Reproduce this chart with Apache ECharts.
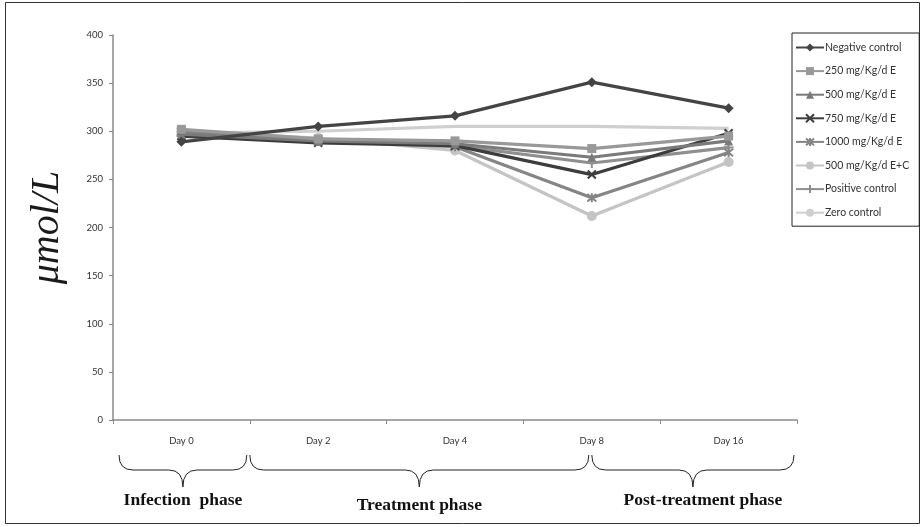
<!DOCTYPE html>
<html>
<head>
<meta charset="utf-8">
<script src="https://cdn.jsdelivr.net/npm/echarts@6/dist/echarts.min.js"></script>
<style>
html,body{margin:0;padding:0;background:#fff;}
#chart{width:923px;height:527px;}
</style>
</head>
<body>
<div id="chart"></div>
<script>
var categories = ['Day 0', 'Day 2', 'Day 4', 'Day 8', 'Day 16'];
var yTicks = [0, 50, 100, 150, 200, 250, 300, 350, 400];

var negativeControl = [289, 305, 316, 351, 324];
var e250 = [302, 292, 290, 282, 295];
var e500 = [297, 290, 287, 273, 290];
var e750 = [295, 288, 285, 255, 298];
var e1000 = [300, 290, 284, 231, 278];
var e500c = [300, 293, 280, 212, 268];
var positiveControl = [295, 290, 285, 267, 283];
var zeroControl = [298, 300, 305, 305, 303];

var seriesNames = ['Negative control', '250 mg/Kg/d E', '500 mg/Kg/d E', '750 mg/Kg/d E',
  '1000 mg/Kg/d E', '500 mg/Kg/d E+C', 'Positive control', 'Zero control'];

var phaseLabels = ['Infection  phase', 'Treatment phase', 'Post-treatment phase'];
var phaseFrom = [-0.5, 0.5, 3];
var phaseTo = [0.5, 3, 4.5];

var seriesData = [negativeControl, e250, e500, e750, e1000, e500c, positiveControl, zeroControl];
var colors = ['#444444', '#999999', '#7a7a7a', '#3d3d3d', '#858585', '#c4c4c4', '#8f8f8f', '#cfcfcf'];
var symbols = ['diamond', 'rect', 'triangle', 'path://M0,0L10,10M10,0L0,10',
  'path://M0,0L10,10M10,0L0,10M5,-1L5,11', 'circle', 'path://M5,-1L5,11M0,5L10,5', 'none'];
var sizes = [10, 9, 9, 8, 9, 10, 10, 0];

var series = seriesNames.map(function (n, i) {
  var pathSym = symbols[i].indexOf('path://') === 0;
  return {
    name: n,
    type: 'line',
    data: seriesData[i],
    symbol: symbols[i],
    symbolSize: sizes[i],
    showSymbol: symbols[i] !== 'none',
    lineStyle: { color: colors[i], width: 3.2 },
    itemStyle: pathSym ? { color: colors[i], borderColor: colors[i], borderWidth: 2 } : { color: colors[i], borderWidth: 0 },
    emphasis: { disabled: true },
    z: 10 - i
  };
});

var chart = echarts.init(document.getElementById('chart'));
chart.setOption({
  animation: false,
  backgroundColor: '#fff',
  grid: { left: 113, right: 126, top: 35, bottom: 107 },
  legend: {
    orient: 'vertical',
    left: 792,
    top: 33,
    width: 126,
    padding: [9, 10, 8, 3],
    itemGap: 12.6,
    itemWidth: 28,
    itemHeight: 10,
    borderColor: '#222',
    borderWidth: 1,
    data: seriesNames,
    textStyle: { fontFamily: 'Lato', fontSize: 10.5, color: '#333', padding: [0, 0, 0, -4] }
  },
  xAxis: {
    type: 'category',
    data: categories,
    axisLine: { lineStyle: { color: '#8a8a8a', width: 1.5 } },
    axisTick: { show: true, length: 4, lineStyle: { color: '#8a8a8a' } },
    axisLabel: { fontFamily: 'Lato', fontSize: 9.5, color: '#333', margin: 16 }
  },
  yAxis: {
    type: 'value',
    min: yTicks[0],
    max: yTicks[yTicks.length - 1],
    interval: yTicks[1] - yTicks[0],
    name: 'μmol/L',
    nameLocation: 'middle',
    nameRotate: 90,
    nameGap: 46,
    nameTextStyle: { fontFamily: 'Liberation Serif', fontStyle: 'italic', fontSize: 40, color: '#1a1a1a' },
    splitLine: { show: false },
    axisLine: { show: true, lineStyle: { color: '#8a8a8a', width: 1.5 } },
    axisTick: { show: true, length: 4, lineStyle: { color: '#8a8a8a' } },
    axisLabel: { fontFamily: 'Lato', fontSize: 9.5, color: '#333', margin: 10 }
  },
  series: series
});

function drawBraces() {
  var c0 = chart.convertToPixel({ xAxisIndex: 0 }, 0);
  var c1 = chart.convertToPixel({ xAxisIndex: 0 }, 1);
  var band = c1 - c0;
  var base = chart.convertToPixel({ yAxisIndex: 0 }, 0);
  var top = base + 35, mid = base + 50, tip = base + 67, textY = base + 80;
  var stroke = { fill: 'none', stroke: '#222', lineWidth: 1 };
  var textShift = [0, 0, 10];
  var els = [{
    type: 'rect', shape: { x: 5.5, y: 2.5, width: 914, height: 521 },
    style: { fill: 'none', stroke: '#333', lineWidth: 1 }, silent: true
  }];
  function curve(x1, y1, x2, y2, cx, cy) {
    els.push({ type: 'bezierCurve', shape: { x1: x1, y1: y1, x2: x2, y2: y2, cpx1: cx, cpy1: cy },
      style: stroke, silent: true });
  }
  function seg(x1, y1, x2, y2) {
    els.push({ type: 'line', shape: { x1: x1, y1: y1, x2: x2, y2: y2 }, style: stroke, silent: true });
  }
  phaseLabels.forEach(function (lab, i) {
    var x1 = c0 + phaseFrom[i] * band + (i === 0 ? 6 : 0);
    var x2 = c0 + phaseTo[i] * band - 3;
    var cx = (x1 + x2) / 2;
    var r = 14;
    curve(x1, top, x1 + r, mid, x1, mid);
    seg(x1 + r, mid, cx - r, mid);
    curve(cx - r, mid, cx, tip, cx, mid);
    curve(cx, tip, cx + r, mid, cx, mid);
    seg(cx + r, mid, x2 - r, mid);
    curve(x2 - r, mid, x2, top, x2, mid);
    els.push({
      type: 'text', x: cx + textShift[i], y: textY + (i === 1 ? 5 : 0),
      style: { text: lab, fontFamily: 'Liberation Serif', fontWeight: 'bold', fontSize: 17.5,
        fill: '#111', align: 'center', verticalAlign: 'middle' }, silent: true
    });
  });
  chart.setOption({ graphic: els });
}
drawBraces();
</script>
</body>
</html>
